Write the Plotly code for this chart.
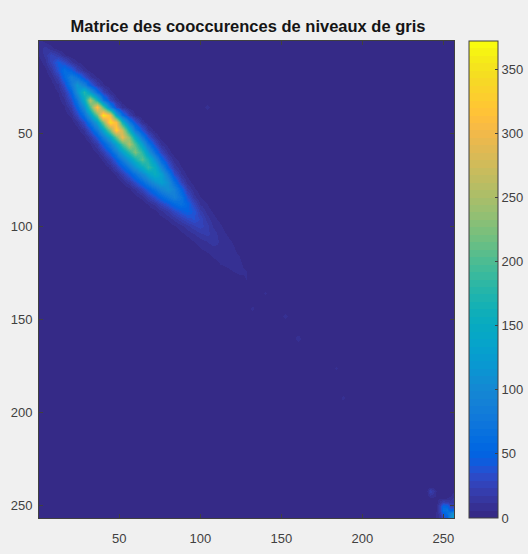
import plotly.graph_objects as go

title_text = "Matrice des cooccurences de niveaux de gris"
tick_vals = [50, 100, 150, 200, 250]
cbar_ticks = [0, 50, 100, 150, 200, 250, 300, 350]
z_max = 372

# counts along the main band: each row is a grey level, each column an offset from the diagonal
band_offsets = [-24, -20, -16, -12, -8, -4, 0, 4, 8, 12, 16, 20, 24]
band_levels = [0, 4, 8, 12, 16, 20, 24, 28, 32, 36, 40, 44, 48, 52, 56, 60, 64, 68, 72, 76,
               80, 84, 88, 92, 96, 100, 104, 108, 112, 116, 120, 124, 128, 132]
band_values = [
    [0, 0, 0, 0, 0, 2, 8, 3, 0, 0, 0, 0, 0],
    [0, 0, 0, 0, 2, 8, 14, 8, 2, 0, 0, 0, 0],
    [0, 0, 0, 1, 5, 14, 26, 18, 7, 2, 0, 0, 0],
    [0, 0, 0, 2, 9, 26, 44, 32, 14, 6, 2, 0, 0],
    [0, 0, 1, 4, 14, 38, 62, 48, 24, 9, 3, 0, 0],
    [0, 0, 2, 7, 22, 54, 85, 68, 36, 14, 5, 1, 0],
    [0, 1, 3, 10, 32, 76, 118, 90, 48, 18, 7, 2, 0],
    [0, 2, 6, 18, 50, 110, 175, 125, 62, 24, 8, 2, 0],
    [0, 3, 10, 32, 72, 150, 255, 165, 75, 28, 9, 2, 0],
    [1, 5, 18, 50, 105, 200, 320, 205, 88, 32, 10, 3, 0],
    [2, 8, 28, 66, 125, 215, 355, 300, 140, 62, 22, 6, 1],
    [2, 10, 32, 72, 130, 225, 345, 305, 165, 78, 36, 9, 2],
    [3, 12, 36, 76, 135, 225, 330, 270, 155, 80, 38, 12, 3],
    [4, 15, 42, 82, 135, 210, 295, 230, 145, 78, 36, 12, 3],
    [5, 18, 46, 84, 130, 195, 255, 200, 130, 70, 32, 10, 3],
    [7, 20, 48, 84, 128, 180, 225, 180, 118, 62, 28, 9, 2],
    [8, 22, 48, 82, 122, 165, 205, 165, 108, 54, 22, 8, 2],
    [8, 22, 46, 76, 112, 150, 185, 150, 95, 44, 16, 6, 1],
    [7, 20, 42, 68, 98, 130, 155, 130, 80, 34, 12, 4, 1],
    [6, 16, 34, 58, 84, 112, 130, 108, 64, 26, 9, 3, 0],
    [4, 12, 26, 46, 68, 92, 108, 90, 52, 20, 7, 2, 0],
    [3, 8, 20, 36, 54, 74, 88, 70, 38, 14, 6, 1, 0],
    [2, 6, 14, 26, 40, 56, 66, 52, 28, 11, 6, 1, 0],
    [2, 4, 10, 18, 30, 42, 50, 38, 20, 9, 5, 1, 0],
    [1, 3, 7, 13, 22, 30, 36, 28, 15, 8, 4, 0, 0],
    [1, 2, 5, 9, 15, 22, 26, 20, 11, 7, 3, 0, 0],
    [1, 2, 4, 7, 11, 16, 19, 15, 9, 6, 2, 0, 0],
    [0, 1, 3, 6, 9, 12, 14, 11, 8, 5, 1, 0, 0],
    [0, 1, 2, 5, 8, 10, 11, 9, 7, 3, 1, 0, 0],
    [0, 0, 1, 3, 7, 8, 9, 8, 6, 2, 0, 0, 0],
    [0, 0, 1, 2, 6, 7, 8, 7, 4, 1, 0, 0, 0],
    [0, 0, 0, 1, 4, 6, 7, 6, 3, 1, 0, 0, 0],
    [0, 0, 0, 1, 2, 4, 6, 4, 2, 0, 0, 0, 0],
    [0, 0, 0, 0, 1, 3, 4, 3, 1, 0, 0, 0, 0],
]

# counts of the small cluster in the lower right corner
corner_levels = [240, 242, 244, 246, 248, 250, 252, 254, 256]
corner_values = [
    [3, 5, 3, 1, 0, 0, 0, 1, 3],
    [6, 22, 12, 3, 1, 0, 1, 2, 5],
    [3, 12, 9, 3, 1, 1, 2, 4, 8],
    [1, 4, 4, 4, 5, 5, 6, 8, 12],
    [1, 1, 2, 5, 14, 22, 20, 14, 16],
    [0, 1, 2, 7, 26, 55, 50, 28, 24],
    [0, 1, 2, 7, 28, 65, 70, 45, 55],
    [1, 1, 3, 8, 20, 48, 65, 85, 110],
    [1, 2, 4, 8, 14, 30, 50, 95, 125],
]

# isolated faint cells
speck_x = [104, 132, 140, 152, 160, 184, 188]
speck_y = [36, 144, 136, 148, 160, 176, 192]
speck_v = [9, 8, 7, 9, 10, 7, 8]

parula = [
    (0.2081, 0.1663, 0.5292), (0.2116, 0.1898, 0.5777), (0.2123, 0.2138, 0.6270), (0.2081, 0.2386, 0.6771),
    (0.1959, 0.2645, 0.7279), (0.1707, 0.2919, 0.7792), (0.1253, 0.3242, 0.8303), (0.0591, 0.3598, 0.8683),
    (0.0117, 0.3875, 0.8820), (0.0060, 0.4086, 0.8828), (0.0165, 0.4266, 0.8786), (0.0329, 0.4430, 0.8720),
    (0.0498, 0.4586, 0.8641), (0.0629, 0.4737, 0.8554), (0.0723, 0.4887, 0.8467), (0.0779, 0.5040, 0.8384),
    (0.0793, 0.5200, 0.8312), (0.0749, 0.5375, 0.8263), (0.0641, 0.5570, 0.8240), (0.0488, 0.5772, 0.8228),
    (0.0343, 0.5966, 0.8199), (0.0265, 0.6137, 0.8135), (0.0239, 0.6287, 0.8038), (0.0231, 0.6418, 0.7913),
    (0.0228, 0.6535, 0.7768), (0.0267, 0.6642, 0.7607), (0.0384, 0.6743, 0.7436), (0.0590, 0.6838, 0.7254),
    (0.0843, 0.6928, 0.7062), (0.1133, 0.7015, 0.6859), (0.1453, 0.7098, 0.6646), (0.1801, 0.7177, 0.6424),
    (0.2178, 0.7250, 0.6193), (0.2586, 0.7317, 0.5954), (0.3022, 0.7376, 0.5712), (0.3482, 0.7424, 0.5473),
    (0.3953, 0.7459, 0.5244), (0.4420, 0.7481, 0.5033), (0.4871, 0.7491, 0.4840), (0.5300, 0.7491, 0.4661),
    (0.5709, 0.7485, 0.4494), (0.6099, 0.7473, 0.4337), (0.6473, 0.7456, 0.4188), (0.6834, 0.7435, 0.4044),
    (0.7184, 0.7411, 0.3905), (0.7525, 0.7384, 0.3768), (0.7858, 0.7356, 0.3633), (0.8185, 0.7327, 0.3498),
    (0.8507, 0.7299, 0.3360), (0.8824, 0.7274, 0.3217), (0.9139, 0.7258, 0.3063), (0.9450, 0.7261, 0.2886),
    (0.9739, 0.7314, 0.2666), (0.9938, 0.7455, 0.2403), (0.9990, 0.7653, 0.2164), (0.9955, 0.7861, 0.1967),
    (0.9880, 0.8066, 0.1794), (0.9789, 0.8271, 0.1633), (0.9697, 0.8481, 0.1475), (0.9626, 0.8705, 0.1309),
    (0.9589, 0.8949, 0.1132), (0.9598, 0.9218, 0.0948), (0.9661, 0.9514, 0.0755), (0.9763, 0.9831, 0.0538),
]

n = len(parula)
colorscale = []
for i, (r, g, b) in enumerate(parula):
    c = f"rgb({round(r * 255)},{round(g * 255)},{round(b * 255)})"
    colorscale += [[i / n, c], [(i + 1) / n, c]]

# assemble the sparse counts on a grid
levels = list(range(0, 240, 4)) + corner_levels
index = {v: i for i, v in enumerate(levels)}
z = [[0] * len(levels) for _ in levels]
for row_level, row in zip(band_levels, band_values):
    for off, v in zip(band_offsets, row):
        col_level = row_level + off
        if col_level in index:
            z[index[row_level]][index[col_level]] = v
for row_level, row in zip(corner_levels, corner_values):
    for col_level, v in zip(corner_levels, row):
        z[index[row_level]][index[col_level]] = v
for x, y, v in zip(speck_x, speck_y, speck_v):
    z[index[y]][index[x]] = v

FONT = "Liberation Sans, Arial, sans-serif"
INK = "#404040"
W, H = 528, 554
L, R, T, B = 39, 454.5, 41, 518

fig = go.Figure(go.Heatmap(
    x=levels, y=levels, z=z, zmin=0, zmax=z_max, zsmooth="best",
    colorscale=colorscale,
    colorbar=dict(
        thickness=28.5, thicknessmode="pixels", len=1, lenmode="fraction",
        x=(470 - L) / (R - L), xanchor="left", xpad=0, y=0.5, yanchor="middle", ypad=0,
        tickmode="array", tickvals=cbar_ticks, ticks="inside", ticklen=3,
        tickcolor=INK, tickwidth=1, outlinecolor=INK, outlinewidth=1,
        tickfont=dict(family=FONT, size=13, color=INK),
    ),
))
axis = dict(
    tickmode="array", tickvals=tick_vals, ticks="inside", ticklen=4, tickcolor=INK, tickwidth=1,
    showgrid=False, zeroline=False, showline=True, linecolor=INK, linewidth=1, mirror="ticks",
    tickfont=dict(family=FONT, size=13, color=INK),
)
fig.update_layout(
    width=W, height=H,
    margin=dict(l=L, r=W - R, t=T, b=H - B, autoexpand=False, pad=0),
    paper_bgcolor="#f0f0f0", plot_bgcolor="#352a87",
    title=dict(text=f"<b>{title_text}</b>", x=(71 + 425) / 2 / W, xanchor="center",
               y=1 - 26 / H, yanchor="middle", font=dict(family=FONT, size=16.5, color="#151515")),
    xaxis=dict(range=[0.5, 256.5], ticklabelstandoff=8, **axis),
    yaxis=dict(range=[256.5, 0.5], ticklabelstandoff=3, **axis),
)
fig.write_html("out.html", config={"displayModeBar": False},
               post_script="document.body.style.margin='0';")
